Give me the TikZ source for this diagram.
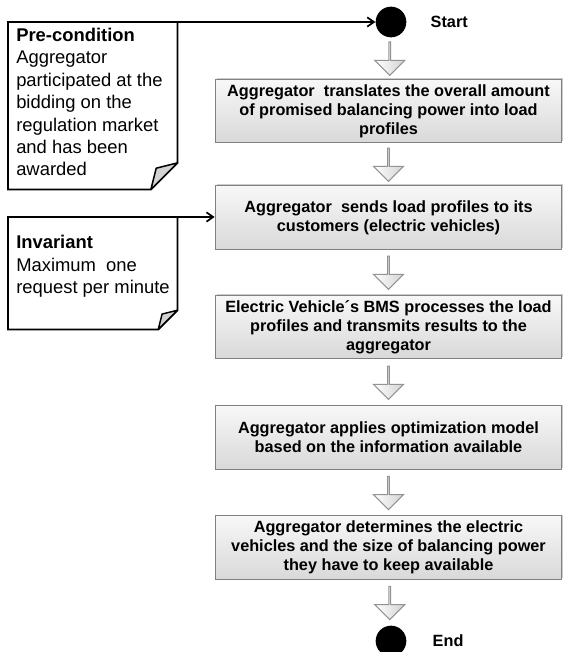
\documentclass[tikz,border=0pt]{standalone}
\usepackage{fontspec}
\setmainfont{Liberation Sans}
\usetikzlibrary{shapes.arrows, shadows, arrows.meta}

\tikzset{
  stepbox/.style={rectangle, draw=gray, line width=0.8pt, top color=gray!6, bottom color=gray!30,
    minimum width=260pt, minimum height=47.5pt, inner sep=2pt, align=center,
    font=\bfseries\fontsize{12.2}{14.3}\selectfont,
    drop shadow={shadow xshift=1pt, shadow yshift=1pt, opacity=0.4}},
  dot/.style={circle, fill=black, minimum size=23pt, inner sep=0pt},
  downarrow/.style={single arrow, rotate=-90, draw=gray!85, line width=0.8pt,
    left color=white, right color=gray!35, minimum height=25pt, minimum width=22.5pt,
    single arrow head extend=6pt, inner sep=0pt},
  notebox/.style={rectangle, anchor=north west, inner sep=0pt},
  notetext/.style={anchor=north west, inner sep=0pt, align=left,
    font=\fontsize{13.8}{16.8}\selectfont},
  endlabel/.style={anchor=west, font=\bfseries\fontsize{12.2}{14}\selectfont},
  noteline/.style={line width=1.3pt, -{Straight Barb[length=5pt, width=7pt]}}
}

% note outline with a folded corner (yscale=-1, so up is a negative yshift)
\newcommand{\dogear}[2]{%
  \draw[line width=1.3pt] (#1.north west) -- (#1.north east) -- ([yshift=-#2]#1.south east)
    -- ([xshift=-#2]#1.south east) -- (#1.south west) -- cycle;
  \draw[line width=1.1pt, fill=gray!35, line join=round] ([yshift=-#2]#1.south east)
    -- ([xshift=-0.8*#2, yshift=-0.8*#2]#1.south east) -- ([xshift=-#2]#1.south east) -- cycle;
}

\begin{document}
\begin{tikzpicture}[x=0.75pt,y=0.75pt,yscale=-1,xscale=1]
\useasboundingbox (0,0) rectangle (563,652);

% Start and end
\node[dot] (start) at (391,22) {};
\node[dot] (end) at (391,641) {};
\node[endlabel] (startlbl) at (426,22) {Start};
\node[endlabel] (endlbl) at (428,641) {End};

% Steps
\node[stepbox] (trans) at (388.5,111) {Aggregator\ \ translates the overall amount\\ of promised balancing power into load\\ profiles};
\node[stepbox] (send) at (388.5,217.5) {Aggregator\ \ sends load profiles to its\\ customers (electric vehicles)};
\node[stepbox] (bms) at (388.5,327) {Electric Vehicle´s BMS processes the load\\ profiles and transmits results to the\\ aggregator};
\node[stepbox] (optim) at (388.5,437.5) {Aggregator applies optimization model\\ based on the information available};
\node[stepbox] (decide) at (388.5,547.5) {Aggregator determines the electric\\ vehicles and the size of balancing power\\ they have to keep available};

% Flow arrows
\foreach \a/\b in {start/trans, trans/send, send/bms, bms/optim, optim/decide, decide/end}
  \path (\a.south) -- (\b.north) node[midway, downarrow] {};

% Notes
\node[notebox, minimum width=126.75pt, minimum height=125.25pt] (pre) at (8,22) {};
\node[notebox, minimum width=126.75pt, minimum height=84pt] (inv) at (8,217) {};
\dogear{pre}{20pt}
\dogear{inv}{14.5pt}
\node[notetext] (pretext) at (16,28) {\textbf{Pre-condition}\\ Aggregator\\ participated at the\\ bidding on the\\ regulation market\\ and has been\\ awarded};
\node[notetext] (invtext) at (16,235) {\textbf{Invariant}\\ Maximum\ \ one\\ request per minute};

% Lines
\draw[noteline] (pre.north east) -- (start.west);
\draw[noteline] (inv.north east) -- (inv.north east -| send.west);

\end{tikzpicture}
\end{document}
